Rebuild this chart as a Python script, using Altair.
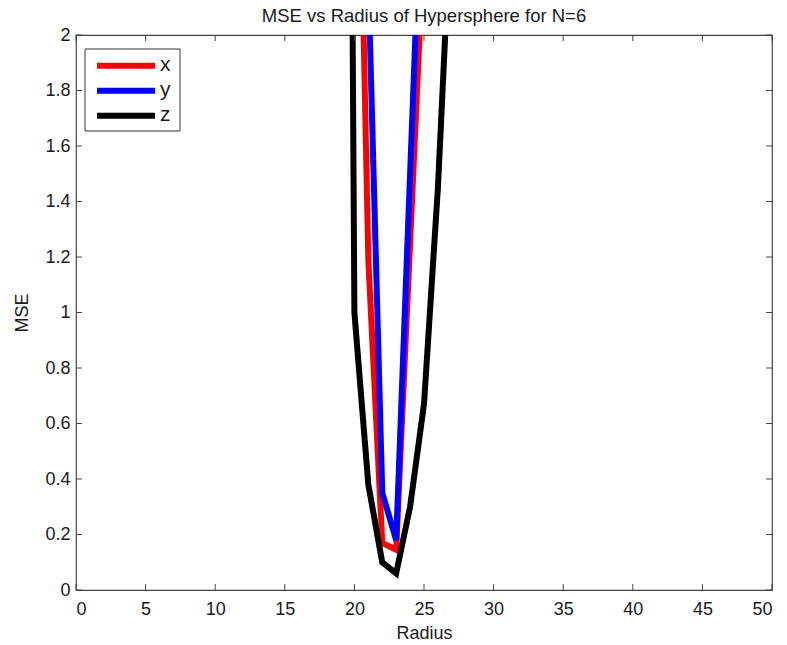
import altair as alt
import pandas as pd

radius = [19, 20, 21, 22, 23, 24, 25, 26, 27]
mse_x = [9.0, 3.6, 1.19, 0.17, 0.145, 1.25, 2.35, 4.0, 6.0]
mse_y = [12.0, 6.0, 2.2, 0.35, 0.18, 1.5, 2.8, 4.5, 7.0]
mse_z = [9.0, 1.0, 0.38, 0.10, 0.06, 0.30, 0.67, 1.45, 2.5]

series_names = ["x", "y", "z"]
series_colors = ["#ff0000", "#0000ff", "#000000"]

x_ticks = [0, 5, 10, 15, 20, 25, 30, 35, 40, 45, 50]
y_ticks = [0, 0.2, 0.4, 0.6, 0.8, 1.0, 1.2, 1.4, 1.6, 1.8, 2.0]

rows = []
for name, vals in zip(series_names, [mse_x, mse_y, mse_z]):
    for r, v in zip(radius, vals):
        rows.append({"radius": r, "mse": v, "series": name})
df = pd.DataFrame(rows)

W, H = 696, 555
FONT = "Liberation Sans"
TXT = "#1a1a1a"

xscale = alt.Scale(domain=[0, 50], nice=False, zero=False)
yscale = alt.Scale(domain=[0, 2], nice=False)

lines = alt.Chart(df).mark_line(clip=True).encode(
    x=alt.X("radius:Q", scale=xscale,
            axis=alt.Axis(values=x_ticks, title="Radius", tickSize=0, labelPadding=10,
                          labelFontSize=18, titleFontSize=18, titleFontWeight="normal",
                          labelColor=TXT, titleColor=TXT, domain=False, grid=False,
                          titlePadding=6)),
    y=alt.Y("mse:Q", scale=yscale,
            axis=alt.Axis(values=y_ticks, format="~g", title="MSE", tickSize=0, labelPadding=6,
                          labelFontSize=18, titleFontSize=18, titleFontWeight="normal",
                          labelColor=TXT, titleColor=TXT, domain=False, grid=False,
                          titlePadding=13)),
    color=alt.Color("series:N", scale=alt.Scale(domain=series_names, range=series_colors),
                    legend=None),
    strokeWidth=alt.StrokeWidth("series:N",
                                scale=alt.Scale(domain=series_names, range=[6, 6, 7]),
                                legend=None),
    order=alt.Order("radius:Q"),
)

xt = pd.DataFrame({"radius": x_ticks})
yt = pd.DataFrame({"mse": y_ticks})
tick_color = "#444"

xb = alt.Chart(xt).mark_rule(color=tick_color).encode(
    x=alt.X("radius:Q", scale=xscale), y=alt.value(H), y2=alt.value(H - 6))
xtop = alt.Chart(xt).mark_rule(color=tick_color).encode(
    x=alt.X("radius:Q", scale=xscale), y=alt.value(0), y2=alt.value(6))
yl = alt.Chart(yt).mark_rule(color=tick_color).encode(
    y=alt.Y("mse:Q", scale=yscale), x=alt.value(0), x2=alt.value(6))
yr = alt.Chart(yt).mark_rule(color=tick_color).encode(
    y=alt.Y("mse:Q", scale=yscale), x=alt.value(W), x2=alt.value(W - 6))

# manual legend (box, line samples, labels)
leg_one = pd.DataFrame({"k": [0]})
legend_layers = [
    alt.Chart(leg_one).mark_rect(fill="white", stroke="#333", strokeWidth=1).encode(
        x=alt.value(9), x2=alt.value(104), y=alt.value(14), y2=alt.value(96))
]
leg_y = [30.7, 55.7, 80.7]
for name, col, ly in zip(series_names, series_colors, leg_y):
    d = pd.DataFrame({"series": [name]})
    legend_layers.append(
        alt.Chart(d).mark_rule(color=col, strokeWidth=6).encode(
            x=alt.value(21), x2=alt.value(79), y=alt.value(ly)))
    legend_layers.append(
        alt.Chart(d).mark_text(align="left", baseline="middle", fontSize=21, font=FONT,
                               color=TXT).encode(
            x=alt.value(84), y=alt.value(ly - 1), text="series:N"))

chart = alt.layer(lines, xb, xtop, yl, yr, *legend_layers).properties(
    width=W, height=H,
    autosize="none",
    padding={"left": 76, "top": 35, "right": 15, "bottom": 55},
    title=alt.TitleParams("MSE vs Radius of Hypersphere for N=6", fontSize=18.5,
                          fontWeight="normal", font=FONT, color=TXT, offset=1),
).configure(font=FONT).configure_view(stroke="#444", strokeWidth=1.2)

chart.save("out.html", embed_options={"renderer": "svg", "actions": False})
